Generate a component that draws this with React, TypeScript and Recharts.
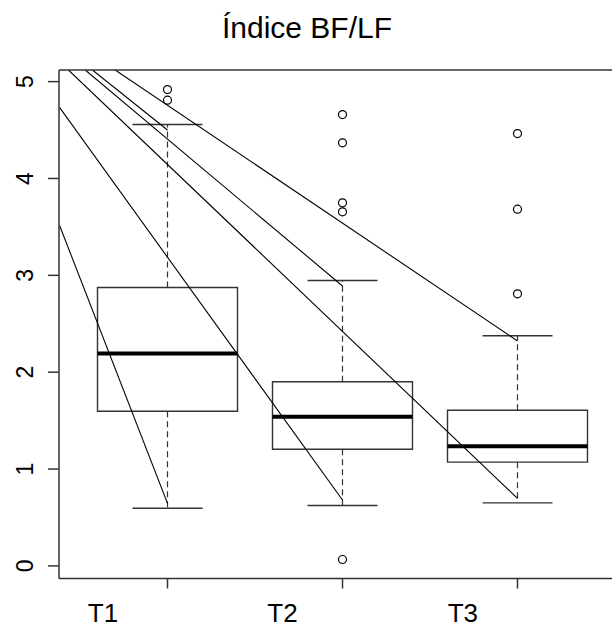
import { ComposedChart, XAxis, YAxis, ReferenceArea, ReferenceLine, Line, Scatter } from 'recharts';

// groups and box statistics
const groups = ['T1', 'T2', 'T3'];
const positions = [1, 2, 3];
const labelPositions = [0.631, 1.657, 2.688];
const lowerWhisker = [0.596, 0.624, 0.651];
const q1 = [1.597, 1.205, 1.071];
const median = [2.193, 1.539, 1.236];
const q3 = [2.874, 1.901, 1.607];
const upperWhisker = [4.557, 2.947, 2.376];
const outliers = [
  [4.918, 4.808],
  [4.66, 4.368, 3.749, 3.656, 0.066],
  [4.464, 3.683, 2.809],
];
const yTicks = [0, 1, 2, 3, 4, 5];

// straight lines running into the whisker ends
const segStartX = [0.384, 0.384, 0.434, 0.53, 0.571, 0.701];
const segStartY = [3.512, 4.731, 5.12, 5.12, 5.12, 5.12];
const segEndX = [1, 2, 3, 2, 1, 3];
const segEndY = [0.646, 0.68, 0.698, 2.89, 4.5, 2.322];

const FONT = '"Liberation Sans", Arial, Helvetica, sans-serif';
const X_DOMAIN: [number, number] = [0.38, 3.62];
const Y_DOMAIN: [number, number] = [-0.13, 5.12];
const BOX_HALF = 0.4;
const CAP_HALF = 0.2;

const CHART_W = 612;
const MARGIN = { top: 69, right: -14, bottom: 0, left: 0 };
const Y_AXIS_W = 59;
const PLOT_W = CHART_W - MARGIN.left - MARGIN.right - Y_AXIS_W;
const PX_PER_UNIT = PLOT_W / (X_DOMAIN[1] - X_DOMAIN[0]);

const outlierData = outliers.flatMap((vals, i) => vals.map(v => ({ x: positions[i], y: v })));
const segments = segStartX.map((x, i) => [
  { x, y: segStartY[i] },
  { x: segEndX[i], y: segEndY[i] },
]);

const YTick = ({ y, payload }: { y: number; payload: { value: number } }) => (
  <text
    x={25}
    y={y}
    transform={`rotate(-90 25 ${y})`}
    textAnchor="middle"
    dominantBaseline="central"
    fontSize={23}
    fontFamily={FONT}
    fill="#000"
    stroke="none"
  >
    {payload.value}
  </text>
);

// group label sits left of its tick, shifted by the label offset in data units
const XTick = ({ x, y, index }: { x: number; y: number; index: number }) => {
  const lx = x + (labelPositions[index] - positions[index]) * PX_PER_UNIT;
  return (
    <text x={lx} y={y + 33.5} textAnchor="middle" fontSize={26} fontFamily={FONT} fill="#000" stroke="none">
      {groups[index]}
    </text>
  );
};

const OpenCircle = (props: { cx?: number; cy?: number }) => (
  <circle cx={props.cx} cy={props.cy} r={4} fill="none" stroke="#000" strokeWidth={1.2} />
);

export default function App() {
  return (
    <div style={{ position: 'relative', width: 612, height: 628, background: '#fff' }}>
      <style>{`body { margin: 0; }`}</style>
      <svg width={612} height={60} style={{ position: 'absolute', left: 0, top: 0 }}>
        <text x={307} y={38} textAnchor="middle" fontSize={30} fontFamily={FONT} fill="#000">
          Índice BF/LF
        </text>
      </svg>
      <ComposedChart
        width={CHART_W}
        height={628}
        margin={MARGIN}
        style={{ position: 'absolute', left: 0, top: 0 }}
      >
        <XAxis
          xAxisId="top"
          orientation="top"
          type="number"
          domain={X_DOMAIN}
          allowDataOverflow
          height={1}
          tick={false}
          tickLine={false}
          axisLine={{ stroke: '#333', strokeWidth: 1.5 }}
        />
        <XAxis
          xAxisId="main"
          dataKey="x"
          type="number"
          domain={X_DOMAIN}
          allowDataOverflow
          ticks={positions}
          height={49.5}
          tickSize={10}
          tickMargin={0}
          tick={XTick}
          tickLine={{ stroke: '#333', strokeWidth: 1.5 }}
          axisLine={{ stroke: '#333', strokeWidth: 1.5 }}
        />
        <YAxis
          yAxisId="main"
          dataKey="y"
          type="number"
          domain={Y_DOMAIN}
          allowDataOverflow
          ticks={yTicks}
          width={Y_AXIS_W}
          tickSize={11}
          tick={YTick}
          tickLine={{ stroke: '#333', strokeWidth: 1.5 }}
          axisLine={{ stroke: '#333', strokeWidth: 1.5 }}
        />

        {positions.map((p, i) => (
          <ReferenceArea
            key={`box-${i}`}
            xAxisId="main"
            yAxisId="main"
            x1={p - BOX_HALF}
            x2={p + BOX_HALF}
            y1={q1[i]}
            y2={q3[i]}
            fill="none"
            fillOpacity={0}
            stroke="#333"
            strokeWidth={1.4}
            ifOverflow="visible"
          />
        ))}
        {positions.map((p, i) => (
          <ReferenceLine
            key={`upw-${i}`}
            xAxisId="main"
            yAxisId="main"
            segment={[{ x: p, y: q3[i] }, { x: p, y: upperWhisker[i] }]}
            stroke="#333"
            strokeWidth={1.2}
            strokeDasharray="6 4"
            ifOverflow="visible"
          />
        ))}
        {positions.map((p, i) => (
          <ReferenceLine
            key={`loww-${i}`}
            xAxisId="main"
            yAxisId="main"
            segment={[{ x: p, y: q1[i] }, { x: p, y: lowerWhisker[i] }]}
            stroke="#333"
            strokeWidth={1.2}
            strokeDasharray="6 4"
            ifOverflow="visible"
          />
        ))}
        {positions.map((p, i) => (
          <ReferenceLine
            key={`upcap-${i}`}
            xAxisId="main"
            yAxisId="main"
            segment={[{ x: p - CAP_HALF, y: upperWhisker[i] }, { x: p + CAP_HALF, y: upperWhisker[i] }]}
            stroke="#333"
            strokeWidth={1.4}
            ifOverflow="visible"
          />
        ))}
        {positions.map((p, i) => (
          <ReferenceLine
            key={`lowcap-${i}`}
            xAxisId="main"
            yAxisId="main"
            segment={[{ x: p - CAP_HALF, y: lowerWhisker[i] }, { x: p + CAP_HALF, y: lowerWhisker[i] }]}
            stroke="#333"
            strokeWidth={1.4}
            ifOverflow="visible"
          />
        ))}
        {positions.map((p, i) => (
          <ReferenceLine
            key={`med-${i}`}
            xAxisId="main"
            yAxisId="main"
            segment={[{ x: p - BOX_HALF, y: median[i] }, { x: p + BOX_HALF, y: median[i] }]}
            stroke="#000"
            strokeWidth={4}
            ifOverflow="visible"
          />
        ))}

        {segments.map((seg, i) => (
          <Line
            key={`seg-${i}`}
            xAxisId="main"
            yAxisId="main"
            data={seg}
            dataKey="y"
            type="linear"
            stroke="#000"
            strokeWidth={1.1}
            dot={false}
            activeDot={false}
            isAnimationActive={false}
          />
        ))}

        <Scatter
          xAxisId="main"
          yAxisId="main"
          data={outlierData}
          dataKey="y"
          shape={OpenCircle}
          isAnimationActive={false}
        />
      </ComposedChart>
    </div>
  );
}
